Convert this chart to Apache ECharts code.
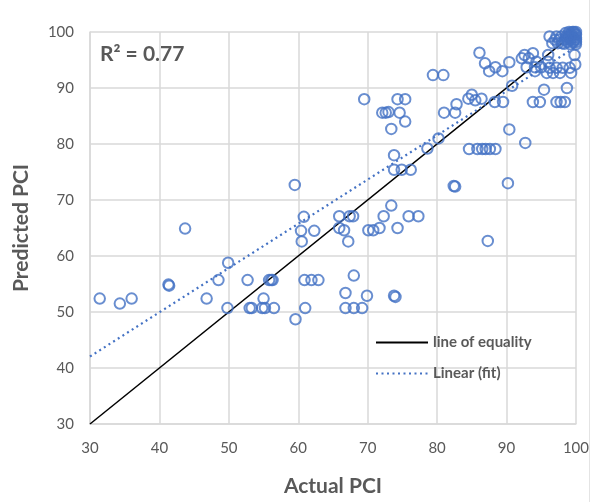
<!DOCTYPE html>
<html>
<head>
<meta charset="utf-8">
<script src="https://cdn.jsdelivr.net/npm/echarts@6/dist/echarts.min.js"></script>
<style>
  html, body { margin: 0; padding: 0; background: #fff; }
  #chart { width: 592px; height: 502px; }
</style>
</head>
<body>
<div id="chart"></div>
<script>
// Actual vs predicted PCI observations: [actual, predicted]
const observations = [
  [31.4,52.4],[34.3,51.5],[36.0,52.4],[41.3,54.9],[41.4,54.7],[43.7,64.9],[46.8,52.4],[48.5,55.7],
  [49.9,58.8],[49.8,50.7],[52.7,55.7],[53.0,50.7],[53.3,50.7],[55.0,52.4],[54.8,50.7],[55.2,50.7],
  [56.5,50.7],[55.8,55.7],[56.1,55.7],[56.3,55.7],[59.6,48.7],[61.0,50.7],[60.9,55.7],[61.9,55.7],
  [62.9,55.7],[60.5,62.6],[60.4,64.5],[60.8,67.0],[62.3,64.5],[59.5,72.7],
  [65.9,67.1],[65.9,65.0],[66.6,64.6],[67.2,62.6],[67.4,67.1],[67.9,67.1],[70.1,64.6],[70.8,64.6],
  [71.7,65.0],[72.3,67.1],[73.4,69.0],[74.3,65.0],[75.9,67.1],[77.3,67.1],
  [68.0,56.5],[66.8,53.4],[69.9,52.9],[73.8,52.9],[74.0,52.7],[66.8,50.7],[68.0,50.7],[69.2,50.7],
  [73.8,75.4],[74.9,75.4],[76.2,75.4],[73.8,78.0],[87.3,62.7],
  [79.4,92.3],[80.9,92.3],[69.5,88.0],[74.3,88.0],[75.4,88.0],[72.1,85.6],[72.6,85.6],[73.0,85.7],
  [74.6,85.6],[75.4,84.0],[73.4,82.7],[81.0,85.6],[82.6,85.6],[82.8,87.1],[80.2,81.0],[78.6,79.2],
  [90.4,82.6],[92.7,80.2],[84.6,79.1],[85.8,79.1],[86.5,79.1],[87.0,79.1],[87.6,79.1],[88.4,79.1],
  [82.4,72.5],[82.6,72.4],[90.2,73.0],
  [86.1,96.3],[86.9,94.4],[87.5,93.0],[88.4,93.7],[89.4,93.0],[90.4,94.6],[85.0,88.8],[84.5,88.1],
  [85.5,87.8],[86.4,88.1],[88.3,87.5],[89.5,87.5],[90.8,90.4],[95.4,89.7],[98.7,90.0],[93.8,87.5],
  [94.8,87.5],[97.2,87.5],[97.8,87.5],[98.4,87.5],
  [96.2,99.2],[97.2,99.2],[97.9,99.2],[98.6,99.2],[97.4,98.0],[98.0,98.0],[96.0,95.9],[92.6,95.9],
  [93.8,96.2],[93.2,95.3],[92.9,93.7],[94.1,93.7],[95.0,93.7],[96.0,94.7],[94.3,94.7],[99.8,95.9],
  [99.9,94.2],[96.2,93.6],[97.2,93.6],[98.1,93.6],[99.1,93.6],[95.8,92.7],[96.7,92.7],[97.7,92.7],
  [99.3,92.7],[94.1,93.0],[92.2,95.3],
  [98.9,99.6],[99.3,99.8],[99.7,100],[100,99.5],[99.6,99.0],[99.2,98.6],[98.8,98.2],[99.6,98.2],
  [100,98.6],[100,97.8],[99.0,99.2],[98.4,98.6],[97.0,98.6],[96.6,98.0],
  [99.5,100],[100,100],[99.0,100],[98.5,99.8],[100,99.0],[99.4,99.4],[98.7,98.8],[99.8,98.6],
  [100,98.2],[99.2,97.8],[98.3,97.9],[97.6,98.6],[99.9,99.7],[99.1,99.1]
];

// Reference line y = x
const equalityLine = [[30, 30], [98, 98]];

// Least-squares fit shown on the chart
const fitSlope = 0.79;
const fitIntercept = 18.35;
const fitRange = [30, 100];
const rSquared = '0.77';

const axisTicks = [30, 40, 50, 60, 70, 80, 90, 100];

const fitLine = fitRange.map(x => [x, fitSlope * x + fitIntercept]);

const textColor = '#595959';
const gridColor = '#d9d9d9';
const markColor = '#4472C4';
const font = 'Lato, "Open Sans", sans-serif';

const chart = echarts.init(document.getElementById('chart'));

const axisCommon = {
  type: 'value',
  min: axisTicks[0],
  max: axisTicks[axisTicks.length - 1],
  interval: 10,
  axisLine: { show: true, lineStyle: { color: gridColor, width: 1.5 } },
  axisTick: { show: false },
  splitLine: { show: true, lineStyle: { color: gridColor, width: 1.5 } },
  nameLocation: 'middle',
  nameTextStyle: { color: textColor, fontFamily: font, fontWeight: 'bold', fontSize: 21 }
};

chart.setOption({
  animation: false,
  backgroundColor: '#fff',
  grid: { left: 90, right: 14, top: 32, bottom: 75, containLabel: false },
  xAxis: Object.assign({}, axisCommon, {
    name: 'Actual PCI',
    nameGap: 52,
    axisLabel: { color: textColor, fontFamily: font, fontSize: 15, margin: 17 }
  }),
  yAxis: Object.assign({}, axisCommon, {
    name: 'Predicted PCI',
    nameGap: 58,
    axisLabel: { color: textColor, fontFamily: font, fontSize: 15, margin: 16 }
  }),
  legend: {
    data: ['line of equality', 'Linear (fit)'],
    orient: 'vertical',
    left: 370,
    top: 330,
    itemWidth: 52,
    itemHeight: 10,
    itemGap: 16,
    itemStyle: { opacity: 0 },
    textStyle: { color: textColor, fontFamily: font, fontWeight: 'bold', fontSize: 15 }
  },
  graphic: [
    {
      type: 'text',
      left: 100,
      top: 44,
      style: {
        text: 'R² = ' + rSquared,
        fill: textColor,
        font: 'bold 21px ' + font
      }
    },
    {
      // chart-area frame edge on the right
      type: 'line',
      shape: { x1: 589.5, y1: 0, x2: 589.5, y2: 502 },
      style: { stroke: '#e4e4e4', lineWidth: 1 }
    }
  ],
  series: [
    {
      name: 'observed',
      type: 'scatter',
      data: observations,
      symbol: 'circle',
      symbolSize: 10.5,
      itemStyle: { color: 'rgba(255,255,255,0)', borderColor: markColor, borderWidth: 2 },
      z: 3
    },
    {
      name: 'line of equality',
      type: 'line',
      data: equalityLine,
      showSymbol: false,
      symbol: 'none',
      lineStyle: { color: '#000', width: 1.5 },
      itemStyle: { color: '#000' },
      z: 2
    },
    {
      name: 'Linear (fit)',
      type: 'line',
      data: fitLine,
      showSymbol: false,
      symbol: 'none',
      lineStyle: { color: markColor, width: 2.2, type: [2, 3.5] },
      itemStyle: { color: markColor },
      z: 2
    }
  ]
});
</script>
</body>
</html>
